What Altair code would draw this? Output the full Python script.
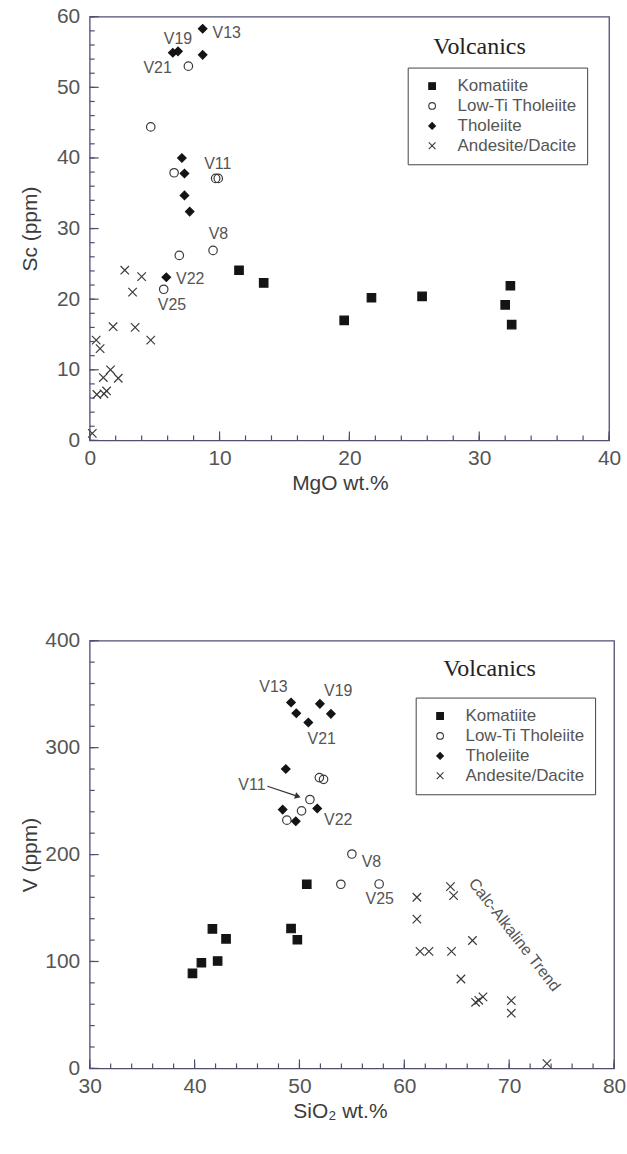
import altair as alt
import pandas as pd

CATS = ["Komatiite", "Low-Ti Tholeiite", "Tholeiite", "Andesite/Dacite"]

# ---------------- Upper panel: MgO wt.% vs Sc (ppm)
top_kom_x = [11.5, 13.4, 19.6, 21.7, 25.6, 32.4, 32.0, 32.5]
top_kom_y = [24.1, 22.3, 17.0, 20.2, 20.4, 21.9, 19.2, 16.4]
top_lti_x = [7.6, 4.7, 6.5, 9.7, 9.9, 9.5, 6.9, 5.7]
top_lti_y = [53.0, 44.4, 37.9, 37.1, 37.1, 26.9, 26.2, 21.4]
top_tho_x = [8.7, 6.4, 6.8, 8.7, 7.1, 7.3, 7.3, 7.7, 5.9]
top_tho_y = [58.3, 54.9, 55.1, 54.6, 40.0, 37.8, 34.7, 32.4, 23.1]
top_and_x = [2.7, 4.0, 3.3, 1.8, 3.5, 4.7, 0.5, 0.8, 1.6, 1.05, 2.2, 1.1, 1.3, 0.55, 0.2]
top_and_y = [24.1, 23.2, 21.0, 16.1, 16.0, 14.2, 14.2, 13.0, 10.0, 8.9, 8.8, 6.6, 7.0, 6.5, 1.0]

top_lab_text = ["V13", "V19", "V21", "V11", "V8", "V22", "V25"]
top_lab_x = [10.55, 6.8, 5.23, 9.86, 9.91, 7.74, 6.34]
top_lab_y = [57.75, 56.8, 52.7, 39.2, 29.2, 22.9, 19.2]

# ---------------- Lower panel: SiO2 wt.% vs V (ppm)
bot_kom_x = [50.7, 41.7, 43.0, 49.2, 49.8, 40.65, 42.2, 39.8]
bot_kom_y = [172.2, 130.5, 121.2, 130.8, 120.3, 98.8, 100.4, 88.9]
bot_lti_x = [51.9, 52.3, 51.0, 50.2, 48.8, 55.0, 53.95, 57.6]
bot_lti_y = [272.0, 270.4, 251.5, 240.9, 232.2, 200.5, 172.2, 172.5]
bot_tho_x = [49.2, 49.7, 50.85, 51.95, 53.0, 48.7, 48.4, 51.7, 49.65]
bot_tho_y = [342.2, 332.2, 323.5, 341.0, 331.6, 280.0, 242.1, 243.1, 231.2]
bot_and_x = [64.4, 64.7, 61.2, 61.2, 66.5, 61.5, 62.35, 64.5, 65.4, 66.8, 67.1, 67.5, 70.2, 70.2, 73.6]
bot_and_y = [170.0, 161.6, 160.1, 139.6, 119.6, 109.4, 109.4, 109.4, 83.6, 61.8, 63.7, 66.9, 63.4, 51.6, 4.4]

bot_lab_text = ["V13", "V19", "V21", "V11", "V22", "V8", "V25"]
bot_lab_x = [47.52, 53.70, 52.12, 45.47, 53.70, 56.87, 57.66]
bot_lab_y = [357.1, 352.7, 307.7, 264.8, 232.2, 193.3, 158.2]

trend_text = ["Calc-Alkaline Trend"]
trend_x = [70.5]
trend_y = [124.9]

arrow_x, arrow_y, arrow_x2, arrow_y2 = [46.95], [263.9], [49.85], [254.4]
head_x, head_y = [49.85], [254.4]

# axis tick values
top_xmaj, top_xmin = list(range(0, 41, 10)), list(range(0, 41, 2))
top_ymaj, top_ymin = list(range(0, 61, 10)), list(range(0, 61, 2))
bot_xmaj, bot_xmin = list(range(30, 81, 10)), list(range(30, 81, 2))
bot_ymaj, bot_ymin = list(range(0, 401, 100)), list(range(0, 401, 20))

FRAME = "#4e4f70"
INK = "#141414"
TXT = "#555555"
SANS = "Liberation Sans"

SHAPES = ["square", "circle", "diamond", "M-1,-1L1,1M-1,1L1,-1"]
FILLS = [INK, "transparent", INK, "transparent"]
STROKES = [INK, "#3a3a3a", INK, "#3a3a3a"]


def make_df(groups):
    rows = []
    for cat, xs, ys in groups:
        for a, b in zip(xs, ys):
            rows.append({"x": a, "y": b, "cat": cat})
    return pd.DataFrame(rows)


def panel(df, xdom, ydom, xmaj, xmin, ymaj, ymin, xtitle, ytitle, W, H,
          labs, leg_xy, volc_xy, extra=()):
    xs = alt.Scale(domain=xdom, nice=False, zero=False)
    ys = alt.Scale(domain=ydom, nice=False, zero=False)
    xaxis = alt.Axis(values=xmaj, title=xtitle, ticks=False, tickSize=0, domain=False, grid=False,
                     labelFlush=False, labelPadding=7, titleY=43, titleX=251, titleBaseline="middle")
    yaxis = alt.Axis(values=ymaj, title=ytitle, ticks=False, tickSize=0, domain=False, grid=False,
                     labelFlush=False, labelPadding=10, titleX=-59, titleBaseline="middle")
    X = lambda f="x": alt.X(f"{f}:Q", scale=xs, axis=xaxis)
    Y = lambda f="y": alt.Y(f"{f}:Q", scale=ys, axis=yaxis)
    leg = alt.Legend(title=None, orient="none", legendX=leg_xy[0], legendY=leg_xy[1])
    pts = alt.Chart(df).mark_point(strokeWidth=1.2, opacity=1, fillOpacity=1, size=72).encode(
        x=X(), y=Y(),
        shape=alt.Shape("cat:N", scale=alt.Scale(domain=CATS, range=SHAPES), legend=leg),
        fill=alt.Fill("cat:N", scale=alt.Scale(domain=CATS, range=FILLS), legend=leg),
        stroke=alt.Stroke("cat:N", scale=alt.Scale(domain=CATS, range=STROKES), legend=leg),
    )
    ticks = []
    for vals, ln in [(xmin, 5), (xmaj, 9)]:
        ticks.append(alt.Chart(pd.DataFrame({"x": vals})).mark_rule(
            color=FRAME, strokeWidth=1.2).encode(
            x=X(), y=alt.value(H), y2=alt.value(H - ln)))
    for vals, ln in [(ymin, 5), (ymaj, 9)]:
        ticks.append(alt.Chart(pd.DataFrame({"y": vals})).mark_rule(
            color=FRAME, strokeWidth=1.2).encode(
            y=Y(), x=alt.value(0), x2=alt.value(ln)))
    lab_df = pd.DataFrame({"x": labs[1], "y": labs[2], "t": labs[0]})
    labels = alt.Chart(lab_df).mark_text(font=SANS, fontSize=16, color=TXT).encode(
        x=X(), y=Y(), text="t:N")
    volc = alt.Chart(pd.DataFrame({"t": ["Volcanics"]})).mark_text(
        font="Liberation Serif", fontSize=24, color="#222222").encode(
        x=alt.value(volc_xy[0]), y=alt.value(volc_xy[1]), text="t:N")
    layers = [pts] + ticks + [labels, volc] + [e(X, Y) for e in extra]
    return alt.layer(*layers).properties(width=W, height=H)


top_df = make_df([(CATS[0], top_kom_x, top_kom_y), (CATS[1], top_lti_x, top_lti_y),
                  (CATS[2], top_tho_x, top_tho_y), (CATS[3], top_and_x, top_and_y)])
bot_df = make_df([(CATS[0], bot_kom_x, bot_kom_y), (CATS[1], bot_lti_x, bot_lti_y),
                  (CATS[2], bot_tho_x, bot_tho_y), (CATS[3], bot_and_x, bot_and_y)])


def trend_layer(X, Y):
    return alt.Chart(pd.DataFrame({"x": trend_x, "y": trend_y, "t": trend_text})).mark_text(
        font=SANS, fontSize=16, color=TXT, angle=52).encode(x=X(), y=Y(), text="t:N")


def arrow_layer(X, Y):
    return alt.Chart(pd.DataFrame({"x": arrow_x, "y": arrow_y, "x2": arrow_x2, "y2": arrow_y2})).mark_rule(
        color="#333333", strokeWidth=1.2).encode(x=X(), y=Y(), x2="x2:Q", y2="y2:Q")


def head_layer(X, Y):
    return alt.Chart(pd.DataFrame({"x": head_x, "y": head_y})).mark_point(
        shape="triangle-right", filled=True, color="#333333", size=45, angle=18, opacity=1).encode(
        x=X(), y=Y())


top = panel(top_df, [0, 40], [0, 60], top_xmaj, top_xmin, top_ymaj, top_ymin,
            "MgO wt.%", "Sc (ppm)", 521, 425,
            (top_lab_text, top_lab_x, top_lab_y), (319, 51), (391, 30))
bot = panel(bot_df, [30, 80], [0, 400], bot_xmaj, bot_xmin, bot_ymaj, bot_ymin,
            "SiO\u2082 wt.%", "V (ppm)", 526, 429,
            (bot_lab_text, bot_lab_x, bot_lab_y), (327, 57), (401, 28),
            extra=(trend_layer, arrow_layer, head_layer))

chart = alt.vconcat(top, bot, spacing=135).resolve_scale(
    shape="independent", fill="independent", stroke="independent"
).properties(
    padding={"left": 19, "top": 3, "right": 0, "bottom": 0}
).configure_view(stroke=FRAME, strokeWidth=1.3).configure_axis(
    labelFont=SANS, labelFontSize=21, labelColor=TXT, titleFont=SANS, titleFontSize=21,
    titleColor="#3c3c3c", titleFontWeight="normal"
).configure_legend(
    padding=10, strokeColor="#444444", labelFont=SANS, labelFontSize=17, labelColor=TXT,
    rowPadding=2, symbolSize=45, symbolStrokeWidth=1.1, symbolOffset=6, labelOffset=17,
    fillColor="white"
)

chart.save("out.html", embed_options={"renderer": "svg", "actions": False})
